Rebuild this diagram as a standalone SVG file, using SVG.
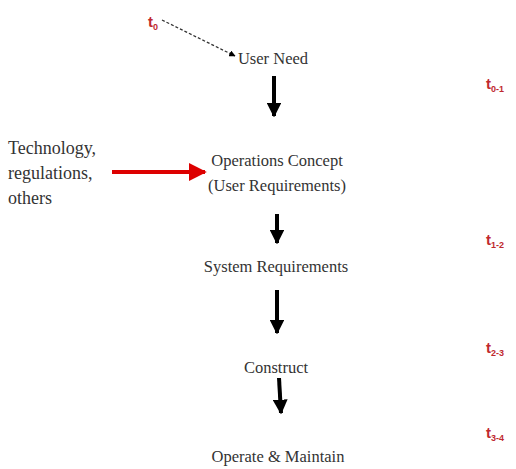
<svg xmlns="http://www.w3.org/2000/svg" width="516" height="469" viewBox="0 0 516 469">
<defs>
<style>
.lbl{font-family:"Liberation Serif","Times New Roman",serif;font-size:16.5px;fill:#333;}
.lft{font-size:18px;}
.t{font-family:"Liberation Sans",Arial,sans-serif;font-size:15px;font-weight:bold;fill:#c0282e;}
.ts{font-size:9px;}
.blk{stroke:#000;stroke-width:4;fill:none;}
</style>
<marker id="bh" viewBox="0 0 10 10" refX="9" refY="5" markerWidth="3.7" markerHeight="3.7" orient="auto" markerUnits="strokeWidth"><path d="M0,0 L10,5 L0,10 z" fill="#000"/></marker>
<marker id="rh" viewBox="0 0 10 10" refX="9" refY="5" markerWidth="4.5" markerHeight="4.5" orient="auto" markerUnits="strokeWidth"><path d="M0,0 L10,5 L0,10 z" fill="#d00"/></marker>
<marker id="dh" viewBox="0 0 10 10" refX="9" refY="5" markerWidth="5" markerHeight="5" orient="auto" markerUnits="strokeWidth"><path d="M0,0 L10,5 L0,10 z" fill="#000"/></marker>
</defs>
<g id="connectors">
<line x1="162" y1="20" x2="235" y2="56" stroke="#333" stroke-width="1.3" stroke-dasharray="3,2" marker-end="url(#dh)"/>
<line class="blk" x1="274" y1="76" x2="274" y2="116" marker-end="url(#bh)"/>
<line x1="112" y1="172" x2="205" y2="172" stroke="#d00" stroke-width="4" marker-end="url(#rh)"/>
<line class="blk" x1="277" y1="214" x2="277" y2="243" marker-end="url(#bh)"/>
<line class="blk" x1="277" y1="290" x2="277" y2="333" marker-end="url(#bh)"/>
<line class="blk" x1="279" y1="378" x2="281" y2="413" marker-end="url(#bh)"/>
</g>
<g id="t0"><text class="t" x="148" y="27">t<tspan class="ts" dy="3">0</tspan></text></g>
<g id="user-need"><text class="lbl" x="273" y="64" text-anchor="middle">User Need</text></g>
<g id="ops-concept"><text class="lbl" x="277" y="166" text-anchor="middle">Operations Concept</text><text class="lbl" x="277" y="191" text-anchor="middle">(User Requirements)</text></g>
<g id="inputs"><text class="lbl lft" x="8" y="154">Technology,</text><text class="lbl lft" x="8" y="179">regulations,</text><text class="lbl lft" x="8" y="204">others</text></g>
<g id="sys-req"><text class="lbl" x="276" y="272" text-anchor="middle">System Requirements</text></g>
<g id="construct"><text class="lbl" x="276" y="373" text-anchor="middle">Construct</text></g>
<g id="operate"><text class="lbl" x="278" y="462" text-anchor="middle">Operate &amp; Maintain</text></g>
<g id="t-labels">
<text class="t" x="486" y="89">t<tspan class="ts" dy="3">0-1</tspan></text>
<text class="t" x="486" y="245">t<tspan class="ts" dy="3">1-2</tspan></text>
<text class="t" x="486" y="353">t<tspan class="ts" dy="3">2-3</tspan></text>
<text class="t" x="486" y="438">t<tspan class="ts" dy="3">3-4</tspan></text>
</g>
</svg>
